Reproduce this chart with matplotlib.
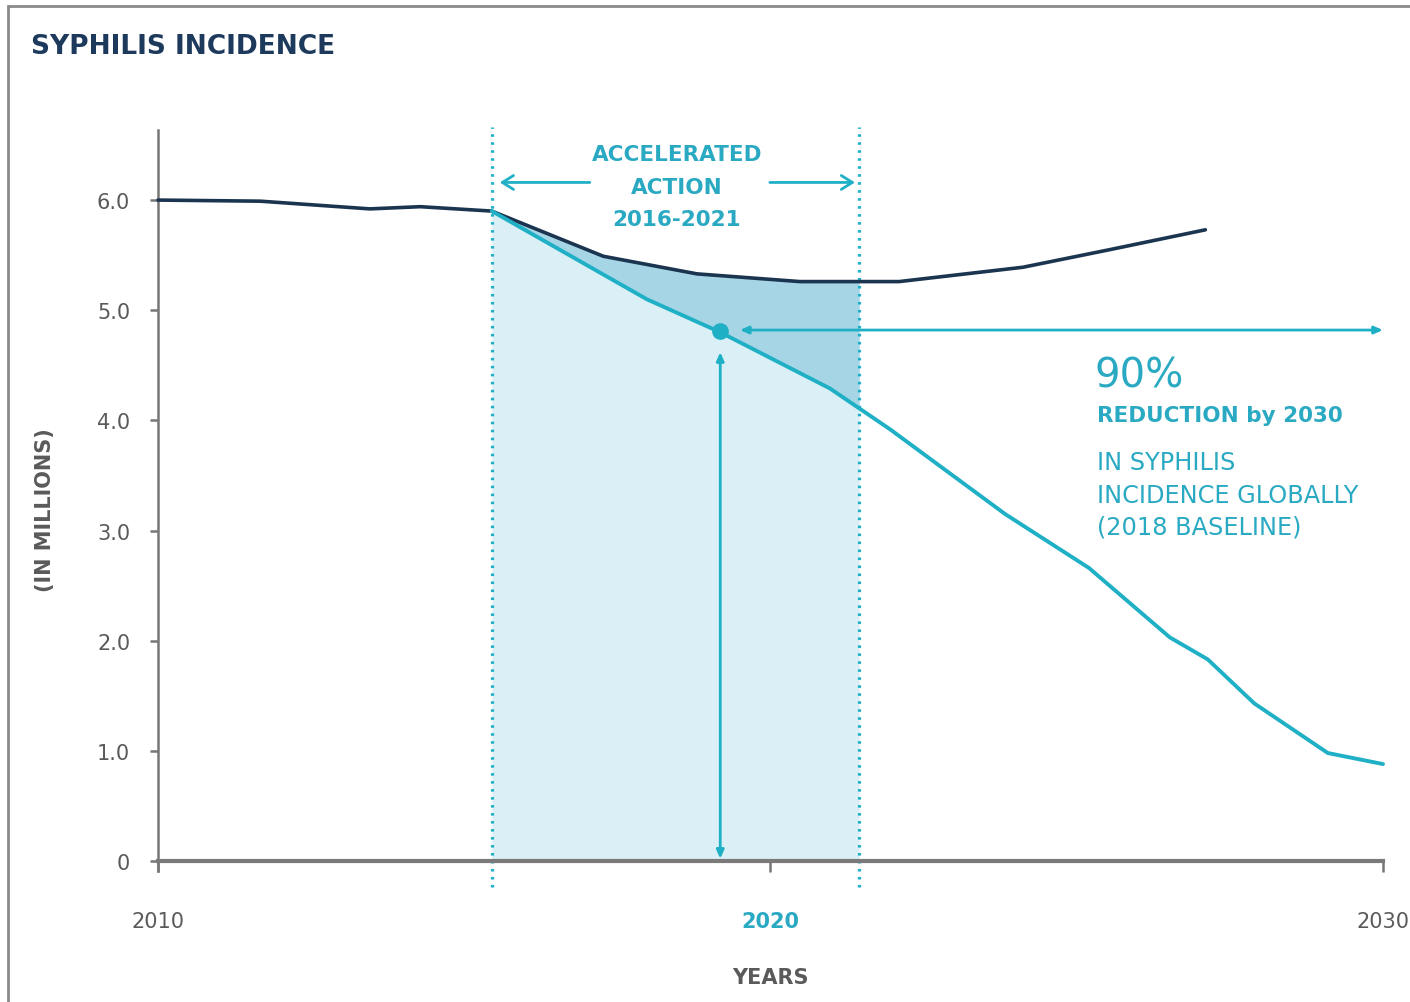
import numpy as np
import matplotlib
matplotlib.use("Agg")
import matplotlib.pyplot as plt
from matplotlib.patches import Rectangle

# ---- data ----
years_current = [2010.0, 2011.67, 2013.46, 2014.28, 2015.45, 2017.27, 2018.8, 2020.48, 2022.1, 2024.12, 2025.54, 2027.1]
values_current = [6.0, 5.99, 5.92, 5.94, 5.90, 5.49, 5.33, 5.26, 5.26, 5.39, 5.55, 5.73]

years_target = [2015.45, 2017.98, 2019.18, 2020.97, 2021.95, 2023.83, 2025.2, 2026.52, 2027.14, 2027.9, 2029.1, 2030.0]
values_target = [5.90, 5.10, 4.80, 4.29, 3.92, 3.15, 2.66, 2.03, 1.83, 1.43, 0.98, 0.88]

window_start, window_end = 2015.45, 2021.45
baseline_year, baseline_value = 2019.18, 4.81
y_ticks = [0, 1, 2, 3, 4, 5, 6]
y_tick_labels = ["0", "1.0", "2.0", "3.0", "4.0", "5.0", "6.0"]
x_ticks = [2010, 2020, 2030]
x_tick_labels = ["2010", "2020", "2030"]

NAVY = "#1b3550"
TEAL = "#1fb0c6"
TEXT_TEAL = "#2aa9c2"
GRAY = "#5a5a5a"
LIGHT_FILL = "#dbeff6"
DARK_FILL = "#a6d5e6"

FONT = ["DejaVu Sans"]

fig = plt.figure(figsize=(14.1, 10.03), dpi=100)
W, H = 1410, 1003
ax = fig.add_axes([130 / W, 1 - 900 / H, 1270 / W, 780 / H])
ax.set_xlim(2009.543, 2030.278)
ax.set_ylim(-0.345, 6.736)

# frame border
fig.patches.append(Rectangle((8 / W, -0.1), 1.2, 1 - 7 / H + 0.1, transform=fig.transFigure,
                             fill=False, edgecolor="#8a8a8a", lw=2))

# fills
xt = np.array(years_target)
vt = np.array(values_target)
xc = np.array(years_current)
vc = np.array(values_current)
grid = np.unique(np.concatenate([[window_start, window_end],
                                 xt[(xt > window_start) & (xt < window_end)],
                                 xc[(xc > window_start) & (xc < window_end)]]))
t_on = np.interp(grid, xt, vt)
c_on = np.interp(grid, xc, vc)
ax.fill_between(grid, 0, t_on, color=LIGHT_FILL, lw=0, zorder=1)
ax.fill_between(grid, t_on, c_on, color=DARK_FILL, lw=0, zorder=1)

# dotted window lines
for xv in (window_start, window_end):
    ax.plot([xv, xv], [-0.24, 6.66], color=TEAL, lw=2.3, linestyle=(0, (0.8, 1.7)), zorder=2,
            solid_capstyle="butt", clip_on=False)

# lines
ax.plot(xc, vc, color=NAVY, lw=2.6, zorder=4, solid_capstyle="round")
ax.plot(xt, vt, color=TEAL, lw=2.8, zorder=5, solid_capstyle="round")

# baseline dot and arrows
ax.plot([baseline_year], [baseline_value], "o", color=TEAL, ms=11, zorder=6)
ax.annotate("", xy=(baseline_year, 0.02), xytext=(baseline_year, 4.62),
            arrowprops=dict(arrowstyle="<|-|>,head_length=0.5,head_width=0.22", color=TEAL, lw=2,
                            shrinkA=0, shrinkB=0), zorder=6)
ax.annotate("", xy=(2030.0, 4.82), xytext=(2019.5, 4.82),
            arrowprops=dict(arrowstyle="<|-|>,head_length=0.5,head_width=0.22", color=TEAL, lw=2,
                            shrinkA=0, shrinkB=0), zorder=6)

# accelerated action arrows
ax.annotate("", xy=(2015.58, 6.16), xytext=(2017.05, 6.16),
            arrowprops=dict(arrowstyle="->,head_length=0.8,head_width=0.5", color=TEAL, lw=2,
                            shrinkA=0, shrinkB=0))
ax.annotate("", xy=(2021.38, 6.16), xytext=(2019.99, 6.16),
            arrowprops=dict(arrowstyle="->,head_length=0.8,head_width=0.5", color=TEAL, lw=2,
                            shrinkA=0, shrinkB=0))
for yv, s in [(6.42, "ACCELERATED"), (6.12, "ACTION"), (5.83, "2016-2021")]:
    ax.text(2018.47, yv, s, ha="center", va="center", color=TEXT_TEAL,
            fontsize=15.5, fontweight="bold", family=FONT)

# right annotation
def px(xp):
    return 2010 + (xp - 158) / 61.25

def py(yp):
    return (862 - yp) / 110.15

ax.text(px(1095), py(377), "90%", ha="left", va="center", color=TEXT_TEAL, fontsize=29, family=FONT)
ax.text(px(1097), py(416), "REDUCTION by 2030", ha="left", va="center", color=TEXT_TEAL,
        fontsize=15.5, fontweight="bold", family=FONT)
for yp, s in [(463, "IN SYPHILIS"), (496, "INCIDENCE GLOBALLY"), (528, "(2018 BASELINE)")]:
    ax.text(px(1097), py(yp), s, ha="left", va="center", color=TEXT_TEAL, fontsize=17.3, family=FONT)

# axes styling
for s in ("top", "right"):
    ax.spines[s].set_visible(False)
ax.spines["left"].set_bounds(-0.09, 6.64)
ax.spines["left"].set_position(("data", 2010))
ax.spines["left"].set_color("#777777")
ax.spines["left"].set_linewidth(1.8)
ax.spines["bottom"].set_position(("data", 0))
ax.spines["bottom"].set_bounds(2010, 2030)
ax.spines["bottom"].set_color("#7a7a7a")
ax.spines["bottom"].set_linewidth(3)
ax.spines["bottom"].set_zorder(3)

ax.set_yticks(y_ticks)
ax.set_yticklabels(y_tick_labels)
ax.set_xticks(x_ticks)
ax.set_xticklabels(x_tick_labels)
ax.tick_params(axis="y", direction="out", length=6, width=1.8, color="#777777", pad=14,
               labelsize=15, labelcolor=GRAY)
ax.tick_params(axis="x", direction="out", length=8, width=1.8, color="#777777", pad=28,
               labelsize=15, labelcolor=GRAY)
ax.get_xticklabels()[1].set_color(TEXT_TEAL)
for lab in ax.get_xticklabels() + ax.get_yticklabels():
    lab.set_family(FONT)
ax.get_xticklabels()[1].set_fontweight("bold")

fig.text(31 / W, 1 - 47 / H, "SYPHILIS INCIDENCE", ha="left", va="center", color="#1d3a5c",
         fontsize=19, fontweight="bold", family=FONT)
fig.text(45 / W, 1 - 510 / H, "(IN MILLIONS)", ha="center", va="center", rotation=90,
         color=GRAY, fontsize=15, fontweight="bold", family=FONT)
fig.text(770 / W, 1 - 978 / H, "YEARS", ha="center", va="center", color=GRAY,
         fontsize=15, fontweight="bold", family=FONT)

fig.savefig("out.png", dpi=100, facecolor="white")
